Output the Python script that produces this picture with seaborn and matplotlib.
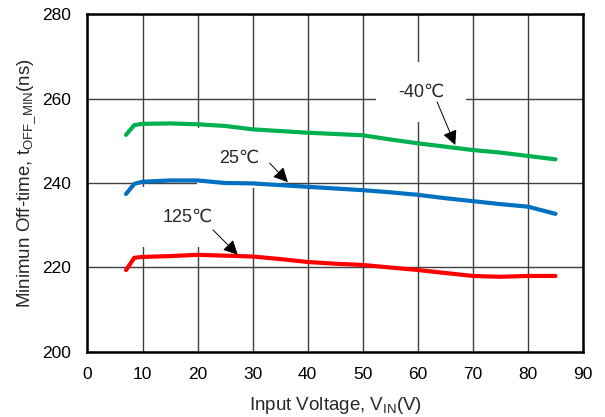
import matplotlib
matplotlib.use("Agg")
import matplotlib.pyplot as plt
import numpy as np
import pandas as pd
import seaborn as sns

# Minimum off-time versus input voltage at three temperatures
vin = [7, 8.5, 10, 15, 20, 25, 30, 35, 40, 45, 50, 55, 60, 65, 70, 75, 80, 85]
toff_m40 = [251.4, 253.7, 254.0, 254.1, 253.9, 253.5, 252.7, 252.3, 251.9, 251.6,
            251.3, 250.3, 249.4, 248.6, 247.8, 247.2, 246.4, 245.6]
toff_25 = [237.4, 239.8, 240.3, 240.6, 240.6, 240.0, 239.9, 239.5, 239.1, 238.7,
           238.3, 237.8, 237.2, 236.4, 235.7, 235.0, 234.4, 232.7]
toff_125 = [219.4, 222.3, 222.5, 222.7, 223.0, 222.8, 222.6, 222.0, 221.3, 220.9,
            220.6, 220.0, 219.4, 218.7, 218.0, 217.8, 218.0, 218.0]
temps = ["-40℃", "25℃", "125℃"]
colors = ["#00B050", "#0070C0", "#FF0000"]

x_ticks = [0, 10, 20, 30, 40, 50, 60, 70, 80, 90]
y_ticks = [200, 220, 240, 260, 280]

df = pd.concat([
    pd.DataFrame({"vin": vin, "toff": vals, "temp": t})
    for t, vals in zip(temps, [toff_m40, toff_25, toff_125])
], ignore_index=True)

sns.set_style("white")
plt.rcParams["font.family"] = ["Liberation Sans", "DejaVu Sans"]
plt.rcParams["mathtext.fontset"] = "custom"
plt.rcParams["mathtext.rm"] = "Liberation Sans"
plt.rcParams["mathtext.default"] = "regular"

fig = plt.figure(figsize=(6.05, 4.17), dpi=100)
ax = fig.add_axes([0.1446, 0.1559, 0.9636 - 0.1446, 0.9664 - 0.1559])

sns.lineplot(data=df, x="vin", y="toff", hue="temp", hue_order=temps,
             palette=colors, linewidth=3.0, legend=False, ax=ax, zorder=3)

ax.set_xlim(0, 90)
ax.set_ylim(200, 280)
ax.set_xticks(x_ticks)
ax.set_yticks(y_ticks)
ax.grid(True, color="#404040", linewidth=1.0)
ax.set_axisbelow(True)
for s in ax.spines.values():
    s.set_color("black")
    s.set_linewidth(1.8)
    s.set_zorder(6)
ax.tick_params(axis="both", length=0, labelsize=12.5, colors="black")
ax.tick_params(axis="x", pad=11)
ax.tick_params(axis="y", pad=12)

ax.set_xlabel(r"Input Voltage, V$_{IN}$(V)", fontsize=13.5, labelpad=9)
ax.set_ylabel(r"Minimun Off-time, t$_{OFF\_MIN}$(ns)", fontsize=13.5, labelpad=3)

# Temperature labels with arrows pointing at each curve
labels = [
    ("-40℃", (60.6, 261.5), (63.5, 259.2), (66.8, 249.0)),
    ("25℃", (27.5, 245.9), (33.1, 244.7), (36.4, 240.2)),
    ("125℃", (18.3, 232.0), (22.8, 228.9), (27.3, 223.0)),
]
for text, pos, start, tip in labels:
    ax.text(pos[0], pos[1], text, fontsize=13, ha="center", va="center",
            zorder=2, bbox=dict(boxstyle="square,pad=1.2", fc="white", ec="none"))
    ax.annotate("", xy=tip, xytext=start, zorder=5,
                arrowprops=dict(arrowstyle="-|>", color="black", lw=0.7,
                                mutation_scale=22, shrinkA=0, shrinkB=0))

fig.savefig("out.png", dpi=100)
